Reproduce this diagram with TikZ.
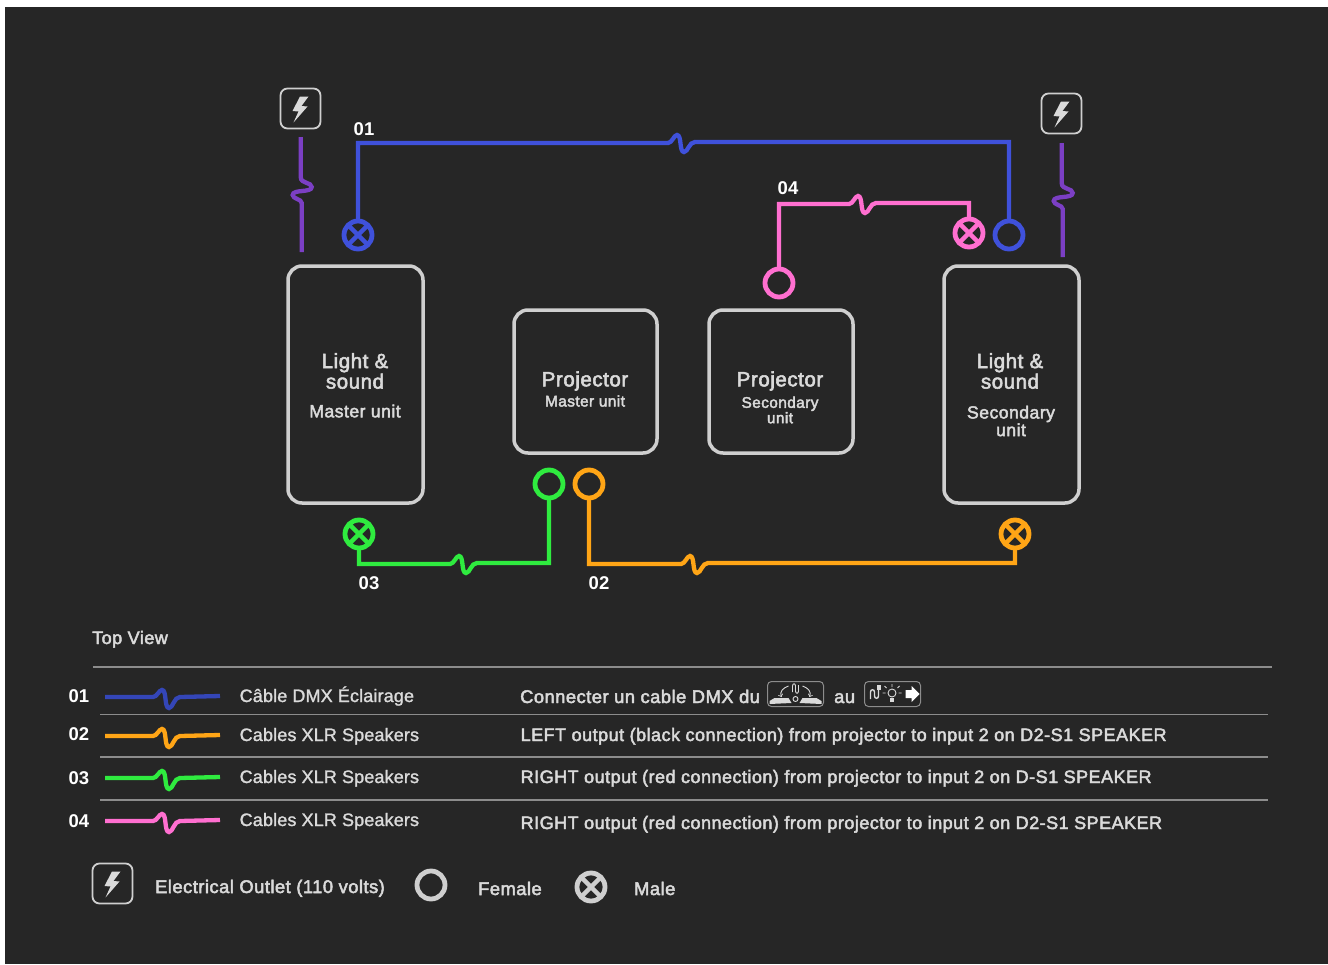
\documentclass[tikz,border=0pt]{standalone}
\usepackage{fontspec}
\setmainfont[LetterSpace=0.8,FakeBold=1.4]{Liberation Sans}
\newfontfamily\medfont[LetterSpace=2.7,FakeBold=2.6]{Liberation Sans}
\newfontfamily\numfont{Liberation Sans Bold}
\usetikzlibrary{positioning}

\definecolor{bgdark}{HTML}{262626}
\definecolor{framegray}{HTML}{CFCFCF}
\definecolor{rulegray}{HTML}{8C8C8C}
\definecolor{txtgray}{HTML}{DADADA}
\definecolor{wireblue}{HTML}{3F51DB}
\definecolor{wirelegblue}{HTML}{3446B8}
\definecolor{wireorange}{HTML}{FFA516}
\definecolor{wiregreen}{HTML}{2FEB3F}
\definecolor{wirepink}{HTML}{FF6FD0}
\definecolor{wirepurple}{HTML}{7B3FC4}

\def\txtsize#1{\fontsize{#1}{#1}\selectfont}
\def\wiggleh{.. controls +(4,0) and +(-3,0) .. ++(9,-8) .. controls +(5,0) and +(-5,0) .. ++(7,17) .. controls +(4,0) and +(-6,0) .. ++(11,-10)}
\def\wigglel{.. controls +(4,0) and +(-3,0) .. ++(9,-7) .. controls +(5,0) and +(-5,0) .. ++(7,18) .. controls +(4,0) and +(-6,0) .. ++(11,-11)}
\def\wigglev{.. controls +(0,7) and +(0,-5) .. ++(11,10) .. controls +(0,6) and +(0,-6) .. ++(-19,8) .. controls +(0,4) and +(0,-4) .. ++(9,8)}

\tikzset{
    unitbox/.style={draw=framegray, line width=3.5pt, rounded corners=14pt, inner sep=0pt, outer sep=0pt},
    unitname/.style={text=txtgray, font=\txtsize{20.5}\medfont, align=center, inner sep=0pt},
    unitsub/.style={text=txtgray, font=\txtsize{15.4}\medfont, align=center, inner sep=0pt},
    unitsubbig/.style={text=txtgray, font=\txtsize{17.6}\medfont, align=center, inner sep=0pt},
    wire/.style={line width=4.3pt, draw=#1},
    female/.style={circle, draw=#1, line width=4.8pt, minimum size=28pt, inner sep=0pt, outer sep=0pt},
    male/.style={female=#1, path picture={
        \draw[#1, line width=4.5pt] (path picture bounding box.north west) -- (path picture bounding box.south east);
        \draw[#1, line width=4.5pt] (path picture bounding box.north east) -- (path picture bounding box.south west);
    }},
    outlet/.style={draw=framegray, line width=1.8pt, rounded corners=7pt, minimum size=40pt, inner sep=0pt, outer sep=0pt, path picture={
        \fill[txtgray, sharp corners, shift={(path picture bounding box.center)}] (8,-12) -- (-0.5,-12) -- (-8,2.5) -- (-2,3) -- (-7,14) -- (7,-2) -- (1,-2.5) -- cycle;
    }},
    numlabel/.style={text=white, font=\txtsize{18.5}\numfont, anchor=base, inner sep=0pt},
    rowtxt/.style={text=txtgray, font=\txtsize{18}, anchor=base west, inner sep=0pt},
    rowbold/.style={text=txtgray, font=\txtsize{18}\medfont, anchor=base west, inner sep=0pt},
    rowbig/.style={text=txtgray, font=\txtsize{18.3}\medfont, anchor=base west, inner sep=0pt},
    iconbox/.style={draw=rulegray, line width=1pt, rounded corners=4pt, minimum width=56pt, minimum height=25pt, inner sep=0pt, outer sep=0pt},
    iconline/.style={draw=txtgray, line width=0.9pt},
    legrule/.style={draw=rulegray, line width=1.2pt},
}

\begin{document}
\begin{tikzpicture}[x=1pt, y=-1pt]
    \useasboundingbox (0, 0) rectangle (1328, 964);
    \fill[bgdark] (5, 7) rectangle (1328, 964);

    % units
    \node[unitbox, minimum width=135pt, minimum height=237pt] (lightmaster) at (355.5, 384.5) {};
    \node[unitbox, minimum width=143pt, minimum height=143pt] (projmaster) at (585.5, 381.5) {};
    \node[unitbox, minimum width=144pt, minimum height=143pt] (projsecond) at (781, 381.5) {};
    \node[unitbox, minimum width=135pt, minimum height=237pt] (lightsecond) at (1011.5, 384.5) {};
    \node[unitname] (lightmastername) at (355, 371) {Light \&\\sound};
    \node[unitsubbig] (lightmastersub) at (355, 411) {Master unit};
    \node[unitname] (projmastername) at (585, 381) {Projector};
    \node[unitsub] (projmastersub) at (585, 401) {Master unit};
    \node[unitname] (projsecondname) at (780, 381) {Projector};
    \node[unitsub] (projsecondsub) at (780, 410) {Secondary\\unit};
    \node[unitname] (lightsecondname) at (1010, 371) {Light \&\\sound};
    \node[unitsubbig] (lightsecondsub) at (1011, 421) {Secondary\\unit};

    % plugs
    \node[male=wireblue] (bluemale) at (358, 235) {};
    \node[female=wireblue] (bluefemale) at (1009, 235) {};
    \node[male=wirepink] (pinkmale) at (969, 233) {};
    \node[female=wirepink] (pinkfemale) at (779, 283) {};
    \node[male=wiregreen] (greenmale) at (359, 534) {};
    \node[female=wiregreen] (greenfemale) at (549, 484) {};
    \node[female=wireorange] (orangefemale) at (589, 484) {};
    \node[male=wireorange] (orangemale) at (1015, 534) {};

    % wires
    \coordinate (bluebend) at (668, 143);
    \coordinate (pinkbend) at (849, 204);
    \coordinate (greenbend) at (450, 564);
    \coordinate (orangebend) at (681, 564);
    \draw[wire=wireblue] (bluemale.north) |- (bluebend) \wiggleh -| (bluefemale.north);
    \draw[wire=wirepink] (pinkfemale.north) |- (pinkbend) \wiggleh -| (pinkmale.north);
    \draw[wire=wiregreen] (greenmale.south) |- (greenbend) \wiggleh -| (greenfemale.south);
    \draw[wire=wireorange] (orangefemale.south) |- (orangebend) \wiggleh -| (orangemale.south);

    \node[numlabel] (labelone) at (364, 135) {01};
    \node[numlabel] (labelfour) at (788, 194) {04};
    \node[numlabel] (labelthree) at (369, 589) {03};
    \node[numlabel] (labeltwo) at (599, 589) {02};

    % power
    \node[outlet] (outletleft) at (300.5, 108.5) {};
    \node[outlet] (outletright) at (1061.5, 113.5) {};
    \coordinate (powerlefttop) at (300.7, 137);
    \coordinate (powerleftbottom) at (301.7, 252);
    \coordinate (powerrighttop) at (1061.7, 143);
    \coordinate (powerrightbottom) at (1062.7, 257);
    \draw[wire=wirepurple] (powerlefttop) -- ++(0, 40) \wigglev -- (powerleftbottom);
    \draw[wire=wirepurple] (powerrighttop) -- ++(0, 40) \wigglev -- (powerrightbottom);

    % legend
    \node[rowbold] (topview) at (92, 644) {Top View};
    \draw[legrule] (93, 667) -- (1272, 667);
    \draw[legrule] (100, 714.5) -- (1268, 714.5);
    \draw[legrule] (100, 757) -- (1268, 757);
    \draw[legrule] (100, 800) -- (1268, 800);

    \node[numlabel] (rowone) at (79, 702) {01};
    \node[numlabel] (rowtwo) at (79, 740) {02};
    \node[numlabel] (rowthree) at (79, 784) {03};
    \node[numlabel] (rowfour) at (79, 827) {04};

    \draw[wire=wirelegblue] (105, 697) -- (153, 697) \wigglel -- (220, 696);
    \draw[wire=wireorange] (105, 736) -- (153, 736) \wigglel -- (220, 735);
    \draw[wire=wiregreen] (105, 778) -- (153, 778) \wigglel -- (220, 777);
    \draw[wire=wirepink] (105, 821) -- (153, 821) \wigglel -- (220, 820);

    \node[rowtxt] (cableone) at (239.5, 702) {Câble DMX Éclairage};
    \node[rowtxt] (cabletwo) at (239.5, 741) {Cables XLR Speakers};
    \node[rowtxt] (cablethree) at (239.5, 783) {Cables XLR Speakers};
    \node[rowtxt] (cablefour) at (239.5, 826) {Cables XLR Speakers};

    \node[rowbig] (noteone) at (520, 703) {Connecter un cable DMX du};
    \node[iconbox] (iconfrom) at (795.5, 694) {};
    \node[rowbig] (noteau) at (834, 703) {au};
    \node[iconbox] (iconto) at (892.5, 694) {};
    \node[rowbold] (notetwo) at (520.5, 741) {LEFT output (black connection) from projector to input 2 on D2-S1 SPEAKER};
    \node[rowbold] (notethree) at (520.5, 783) {RIGHT output (red connection) from projector to input 2 on D-S1 SPEAKER};
    \node[rowbold] (notefour) at (520.5, 829) {RIGHT output (red connection) from projector to input 2 on D2-S1 SPEAKER};

    % small icons
    \begin{scope}[shift={(iconfrom.center)}]
        \draw[iconline, ->] (-7, -8) .. controls (-13, -6) and (-16, -2) .. (-14, 3);
        \draw[iconline, ->] (7, -8) .. controls (13, -6) and (16, -2) .. (14, 3);
        \fill[txtgray] (-26, 7) -- (-21, 4) -- (-7, 4) -- (-4, 9) -- (-26, 10) -- cycle;
        \fill[txtgray] (26, 7) -- (21, 4) -- (7, 4) -- (4, 9) -- (26, 10) -- cycle;
        \draw[iconline] (-3, -2) -- (-3, -8) .. controls (-3, -11) and (0, -11) .. (0, -8) -- (0, -3) .. controls (0, 0) and (3, 0) .. (3, -3) -- (3, -9);
        \draw[iconline] (0, 5) circle (2.5pt);
    \end{scope}
    \begin{scope}[shift={(iconto.center)}]
        \draw[iconline, line width=1.4pt] (-22, 5) -- (-22, -2) .. controls (-22, -5) and (-18, -5) .. (-18, -2) -- (-18, 2) .. controls (-18, 5) and (-14, 5) .. (-14, 2) -- (-14, -6);
        \fill[txtgray] (-16, -9) rectangle (-12, -4);
        \draw[iconline] (-0.5, -1) circle (4pt);
        \fill[txtgray] (-2.5, 4) rectangle (1.5, 8);
        \draw[iconline] (-10, -1) -- (-7, -1) (6, -1) -- (9, -1) (-0.5, -10) -- (-0.5, -7) (-6, -6) -- (-8, -8) (5, -6) -- (7, -8);
        \fill[white] (13, -4) -- (19, -4) -- (19, -8) -- (27, 0) -- (19, 8) -- (19, 4) -- (13, 4) -- cycle;
    \end{scope}

    \node[outlet] (outletlegend) at (112.5, 883.5) {};
    \node[rowbig] (outlettxt) at (155, 893) {Electrical Outlet (110 volts)};
    \node[female=framegray] (femalelegend) at (431, 885) {};
    \node[rowbig] (femaletxt) at (478, 895) {Female};
    \node[male=framegray] (malelegend) at (591, 887) {};
    \node[rowbig] (maletxt) at (634, 895) {Male};
\end{tikzpicture}
\end{document}
